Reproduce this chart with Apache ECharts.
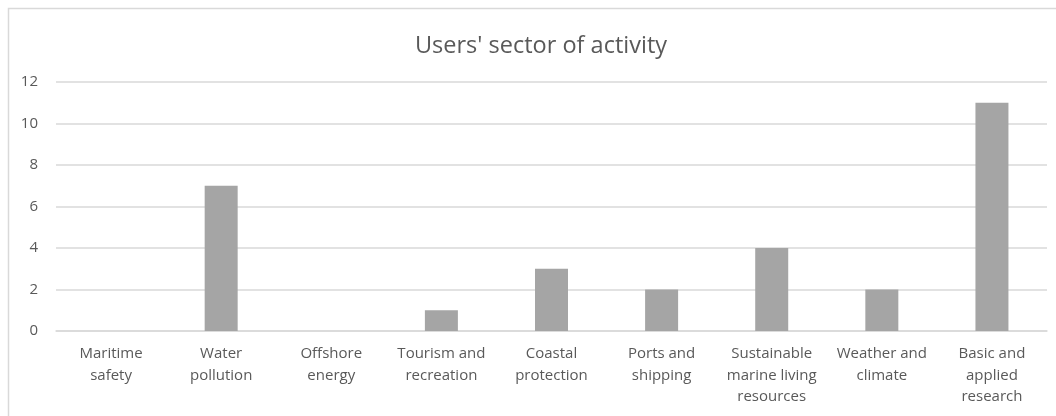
<!DOCTYPE html>
<html>
<head>
<meta charset="utf-8">
<script src="https://cdn.jsdelivr.net/npm/echarts@6/dist/echarts.min.js"></script>
<style>
html,body{margin:0;padding:0;background:#fff;}
#chart{width:1056px;height:416px;}
</style>
</head>
<body>
<div id="chart"></div>
<script>
const titleText = "Users' sector of activity";
const categories = [
  "Maritime\nsafety",
  "Water\npollution",
  "Offshore\nenergy",
  "Tourism and\nrecreation",
  "Coastal\nprotection",
  "Ports and\nshipping",
  "Sustainable\nmarine living\nresources",
  "Weather and\nclimate",
  "Basic and\napplied\nresearch"
];
const values = [0, 7, 0, 1, 3, 2, 4, 2, 11];
const yTicks = { min: 0, max: 12, interval: 2 };

const FONT = '"Open Sans", sans-serif';
const chart = echarts.init(document.getElementById('chart'), null, { renderer: 'canvas' });
chart.setOption({
  animation: false,
  backgroundColor: '#ffffff',
  title: {
    text: titleText,
    left: 536,
    textAlign: 'center',
    top: 29,
    textStyle: { fontFamily: FONT, fontSize: 23.5, fontWeight: 'normal', color: '#595959' }
  },
  graphic: [{
    type: 'rect',
    shape: { x: 8.5, y: 8.5, width: 1100, height: 500 },
    style: { fill: 'none', stroke: '#d9d9d9', lineWidth: 1.5 },
    silent: true,
    z: -10
  }],
  grid: { left: 56, right: 9, top: 82, bottom: 85, containLabel: false },
  xAxis: {
    type: 'category',
    data: categories,
    axisLine: { show: true, lineStyle: { color: '#d9d9d9', width: 1.5 } },
    axisTick: { show: false },
    axisLabel: {
      interval: 0,
      margin: 12,
      fontFamily: FONT,
      fontSize: 15,
      lineHeight: 21.5,
      color: '#595959',
      align: 'center'
    }
  },
  yAxis: {
    type: 'value',
    min: yTicks.min,
    max: yTicks.max,
    interval: yTicks.interval,
    axisLine: { show: false },
    axisTick: { show: false },
    splitLine: { show: true, lineStyle: { color: '#d9d9d9', width: 1.5 } },
    axisLabel: { margin: 18, fontFamily: FONT, fontSize: 15, color: '#595959' }
  },
  series: [{
    type: 'bar',
    data: values,
    barWidth: 33,
    itemStyle: { color: '#a5a5a5' }
  }]
});
</script>
</body>
</html>
